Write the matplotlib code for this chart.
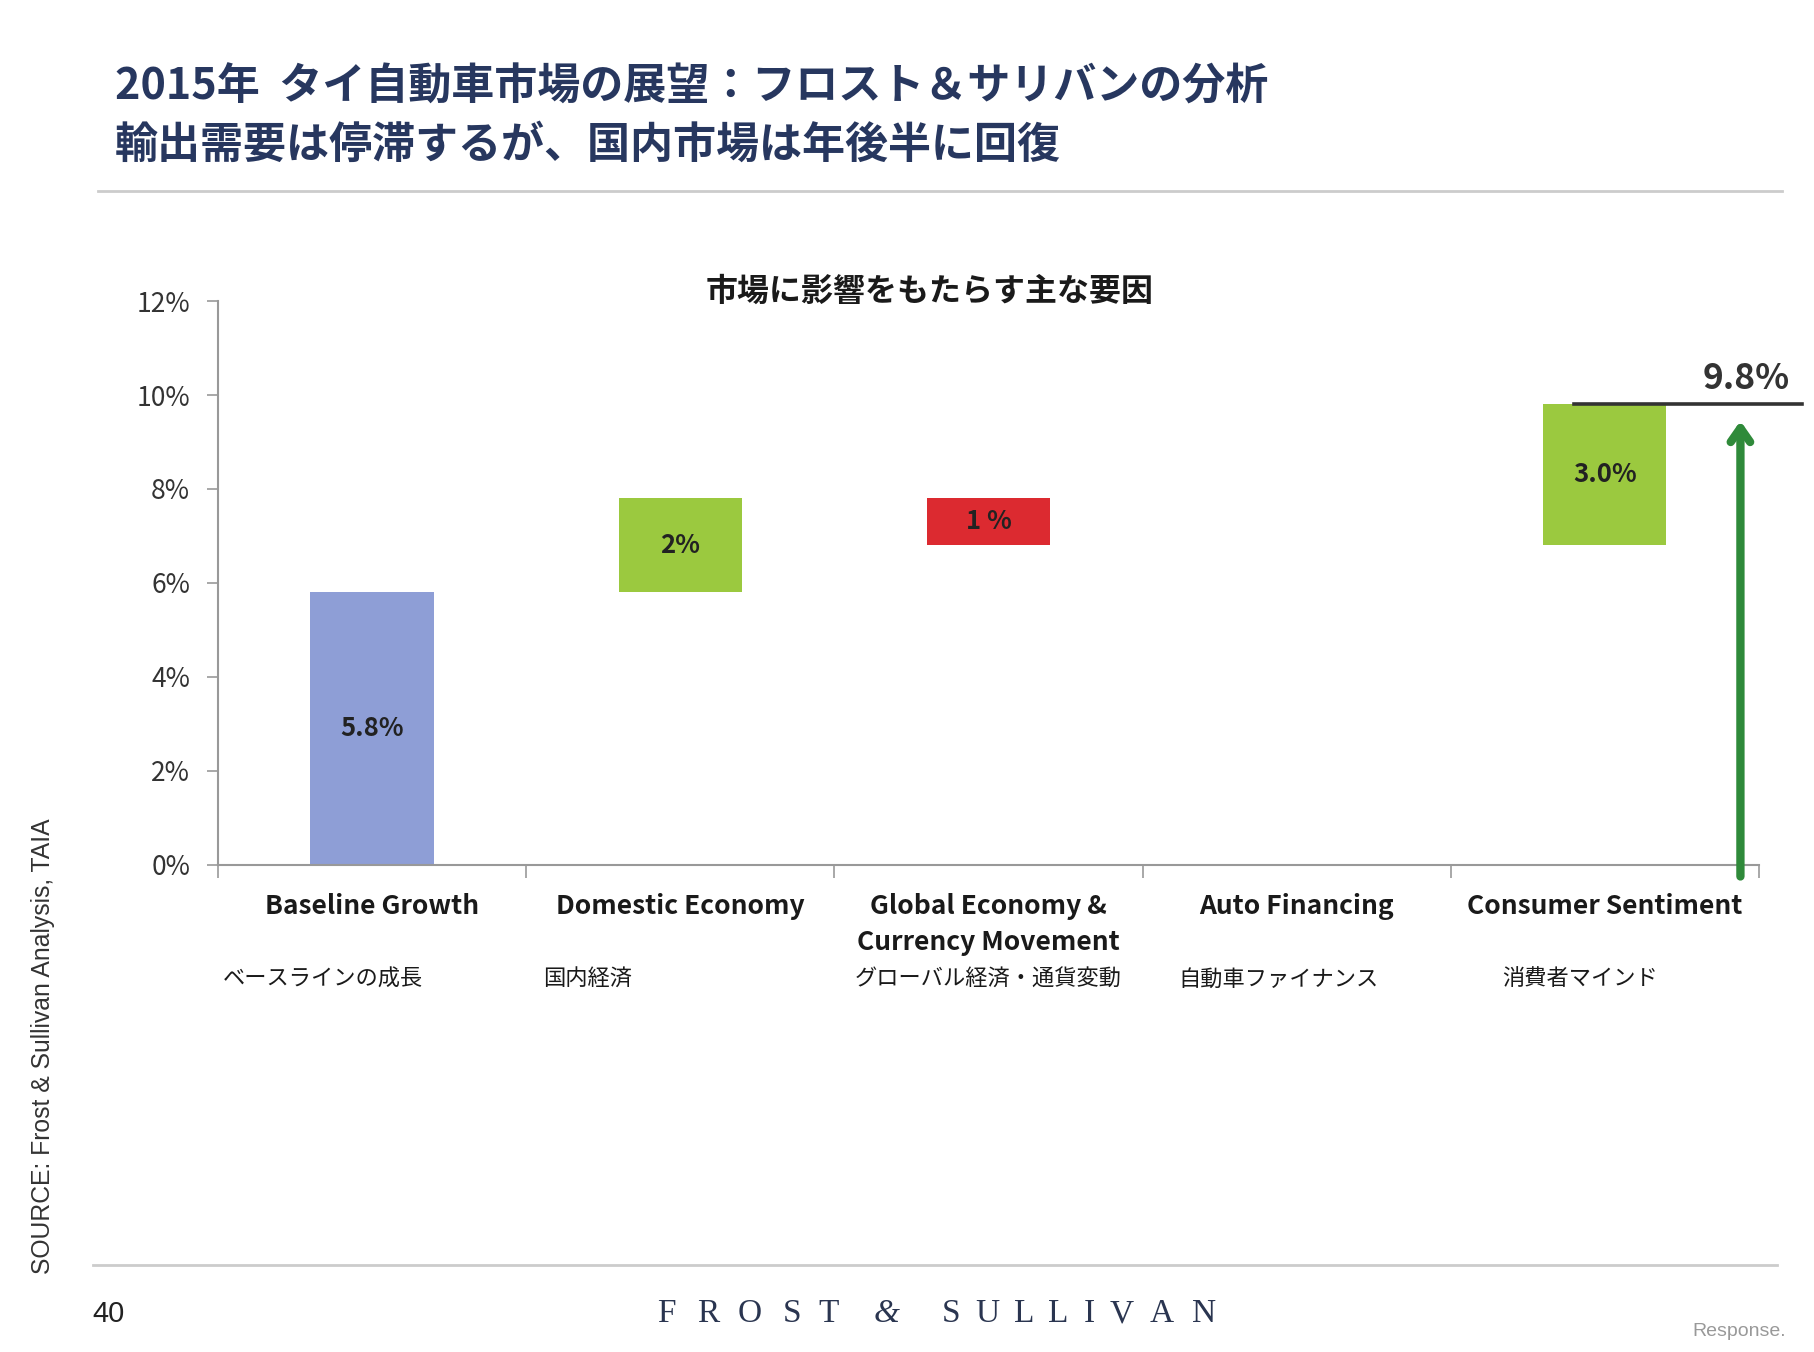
import matplotlib
matplotlib.use('Agg')
import matplotlib.pyplot as plt
import numpy as np

plt.rcParams['font.family'] = ['Noto Sans CJK JP', 'DejaVu Sans']

# data
categories_en = ['Baseline Growth', 'Domestic Economy', 'Global Economy &\nCurrency Movement',
                 'Auto Financing', 'Consumer Sentiment']
categories_ja = ['ベースラインの成長', '国内経済', 'グローバル経済・通貨変動', '自動車ファイナンス', '消費者マインド']
changes = [5.8, 2.0, -1.0, 0.0, 3.0]
bar_labels = ['5.8%', '2%', '1 %', '', '3.0%']
total = 9.8
total_label = '9.8%'
yticks = [0, 2, 4, 6, 8, 10, 12]

bar_colors = ['#8e9ed6', '#9bc93f', '#dc2a30', '#9bc93f', '#9bc93f']
ja_offsets = [-0.16, -0.30, 0.0, -0.06, -0.08]

x = np.arange(len(changes))
ends = np.cumsum(changes)
starts = ends - np.array(changes)
bottoms = np.minimum(starts, ends)
heights = np.abs(changes)

fig = plt.figure(figsize=(18.15, 13.52), dpi=100, facecolor='white')

# header
navy = '#27375f'
fig.text(0.0634, 0.936, '2015年  タイ自動車市場の展望：フロスト＆サリバンの分析',
         fontsize=31, fontweight='bold', color=navy, va='center')
fig.text(0.0634, 0.893, '輸出需要は停滞するが、国内市場は年後半に回復',
         fontsize=31, fontweight='bold', color=navy, va='center')
fig.add_artist(plt.Line2D([0.054, 0.982], [0.859, 0.859], color='#cccccc', lw=2))

# chart
ax = fig.add_axes([0.1201, 0.3604, 0.849, 0.4169])
ax.bar(x, heights, bottom=bottoms, width=0.4, color=bar_colors, zorder=2)
for xi, b, h, lab in zip(x, bottoms, heights, bar_labels):
    if lab:
        ax.text(xi, b + h / 2, lab, ha='center', va='center', fontsize=18.5,
                fontweight='bold', color='#222222', zorder=3)

ax.set_xlim(-0.5, 4.5)
ax.set_ylim(0, 12)
ax.set_yticks(yticks)
ax.set_yticklabels([f'{v}%' for v in yticks])
ax.tick_params(axis='y', labelsize=19, labelcolor='#333333', color='#999999',
               length=8, width=1.2, pad=12)
ax.set_xticks(np.arange(-0.5, 5, 1.0))
ax.set_xticklabels([])
ax.tick_params(axis='x', color='#999999', length=9, width=1.2)
for s in ['top', 'right']:
    ax.spines[s].set_visible(False)
for s in ['left', 'bottom']:
    ax.spines[s].set_color('#999999')
    ax.spines[s].set_linewidth(1.5)

# category labels
for xi, en, ja, off in zip(x, categories_en, categories_ja, ja_offsets):
    ax.text(xi, -0.6, en, ha='center', va='top', fontsize=19, fontweight='bold',
            color='#1a1a1a', linespacing=1.45, clip_on=False)
    ax.text(xi + off, -2.43, ja, ha='center', va='center', fontsize=16,
            color='#1a1a1a', clip_on=False)

# total line + arrow
arrow_x = 4.44
ax.plot([3.9, 4.64], [total, total], color='#333333', lw=2.6, clip_on=False, zorder=4)
ax.text(4.46, 10.35, total_label, ha='center', va='center', fontsize=25.5,
        fontweight='bold', color='#333333', clip_on=False)
ax.annotate('', xy=(arrow_x, 9.45), xytext=(arrow_x, -0.25),
            arrowprops=dict(arrowstyle='->,head_length=1.0,head_width=0.7',
                            lw=6, color='#2f8a3a', shrinkA=0, shrinkB=0),
            annotation_clip=False)

ax.set_title('市場に影響をもたらす主な要因', fontsize=23, fontweight='bold',
             color='#1a1a1a', x=0.4617, y=0.985)

# side source and footer
fig.text(0.0235, 0.226, 'SOURCE: Frost & Sullivan Analysis, TAIA', rotation=90,
         fontsize=17.8, color='#333333', ha='center', va='center', family='Liberation Sans')
fig.add_artist(plt.Line2D([0.051, 0.979], [0.064, 0.064], color='#cccccc', lw=2))
fig.text(0.051, 0.028, '40', fontsize=21, color='#222222', va='center',
         family='Liberation Sans')

# spaced-out logo letters
logo_chars = list('FROST') + ['&'] + list('SULLIVAN')
logo_px = [576, 612, 648, 684, 716, 766, 822, 853, 885, 914, 941, 969, 1004, 1040]
for ch, px in zip(logo_chars, logo_px):
    fig.text(px / 1568, 0.028, ch, fontsize=24, color='#2a3550', ha='center',
             va='center', family='Liberation Serif',
             style='italic' if ch == '&' else 'normal')
fig.text(0.958, 0.015, 'Response.', fontsize=14, color='#999999', ha='center',
         va='center', family='Liberation Sans')

fig.savefig('out.png', dpi=100, facecolor='white')
